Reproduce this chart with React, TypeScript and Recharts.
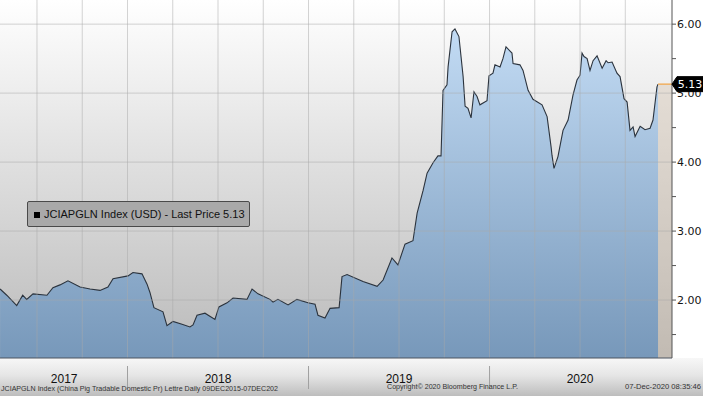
import { Area, ComposedChart, ReferenceArea, ReferenceLine, XAxis, YAxis } from 'recharts';

// JCIAPGLN Index (time in decimal years)
const TIMES = [
  2017.296, 2017.333, 2017.388, 2017.421, 2017.443, 2017.478, 2017.555, 2017.588, 2017.627, 2017.671,
  2017.738, 2017.793, 2017.848, 2017.892, 2017.92, 2018.003, 2018.03, 2018.08, 2018.108, 2018.124,
  2018.146, 2018.196, 2018.218, 2018.251, 2018.301, 2018.345, 2018.362, 2018.384, 2018.428, 2018.483,
  2018.505, 2018.55, 2018.583, 2018.66, 2018.688, 2018.721, 2018.787, 2018.804, 2018.831, 2018.887,
  2018.936, 2018.997, 2019.036, 2019.052, 2019.091, 2019.119, 2019.169, 2019.185, 2019.213, 2019.301,
  2019.379, 2019.412, 2019.461, 2019.494, 2019.533, 2019.577, 2019.6, 2019.633, 2019.655, 2019.688,
  2019.715, 2019.732, 2019.743, 2019.765, 2019.771, 2019.793, 2019.809, 2019.831, 2019.854, 2019.865,
  2019.881, 2019.898, 2019.914, 2019.931, 2019.947, 2019.986, 2019.997, 2020.019, 2020.03, 2020.058,
  2020.074, 2020.091, 2020.124, 2020.13, 2020.168, 2020.185, 2020.213, 2020.24, 2020.29, 2020.318,
  2020.34, 2020.345, 2020.356, 2020.378, 2020.406, 2020.434, 2020.461, 2020.483, 2020.5, 2020.511,
  2020.522, 2020.539, 2020.555, 2020.572, 2020.594, 2020.622, 2020.644, 2020.655, 2020.677, 2020.704,
  2020.721, 2020.743, 2020.76, 2020.776, 2020.793, 2020.804, 2020.832, 2020.859, 2020.887, 2020.903,
  2020.925, 2020.931
];

const PRICES = [
  2.16, 2.07, 1.92, 2.07, 2.01, 2.09, 2.07, 2.18, 2.22, 2.28,
  2.19, 2.16, 2.14, 2.19, 2.31, 2.35, 2.4, 2.38, 2.23, 2.11,
  1.89, 1.83, 1.63, 1.69, 1.65, 1.61, 1.64, 1.78, 1.81, 1.72,
  1.9, 1.96, 2.03, 2.01, 2.16, 2.09, 2.01, 1.97, 2.01, 1.93,
  2.01, 1.96, 1.94, 1.78, 1.74, 1.88, 1.89, 2.34, 2.37, 2.27,
  2.2, 2.29, 2.61, 2.51, 2.81, 2.86, 3.26, 3.59, 3.84, 3.99,
  4.09, 4.09, 5.04, 5.12, 5.38, 5.89, 5.93, 5.82, 5.24, 4.81,
  4.78, 4.64, 5.02, 4.95, 4.83, 4.89, 5.25, 5.29, 5.41, 5.38,
  5.5, 5.67, 5.58, 5.43, 5.41, 5.33, 5.04, 4.91, 4.83, 4.66,
  4.22, 4.1, 3.91, 4.08, 4.46, 4.61, 4.97, 5.19, 5.26, 5.58,
  5.53, 5.5, 5.33, 5.47, 5.54, 5.36, 5.47, 5.44, 5.45, 5.29,
  5.24, 4.92, 4.87, 4.46, 4.51, 4.37, 4.52, 4.47, 4.49, 4.61,
  5.09, 5.13
];

const LAST_PRICE = 5.13;
const X_MIN = 2017.2956;
const X_MAX = 2021.008;
const Y_MIN = 1.16;
const Y_MAX = 6.35;

const Y_TICKS = [1.5, 2, 2.5, 3, 3.5, 4, 4.5, 5, LAST_PRICE, 5.5, 6];
const Y_GRID = [2, 3, 4, 5, 6];
const QUARTER_LINES = [
  2017.5, 2017.75, 2018, 2018.25, 2018.5, 2018.75, 2019, 2019.25, 2019.5, 2019.75, 2020, 2020.25, 2020.5, 2020.75
];
const YEAR_LABELS = ['2017', '2018', '2019', '2020'];
const YEAR_CENTERS = [2017.65, 2018.5, 2019.5, 2020.5];
const YEAR_BREAKS = [2018, 2019, 2020];

const MONTH_TICKS: number[] = [];
for (let y = 2017; y <= 2020; y++) {
  for (let m = 0; m < 12; m++) {
    const t = y + m / 12;
    if (t > X_MIN && t < X_MAX) MONTH_TICKS.push(t);
  }
}

const AXIS_FONT = '"DejaVu Sans", Verdana, sans-serif';
const LABEL_FONT = '"Liberation Sans", Arial, sans-serif';

function PriceTick({ x, y, payload }: any) {
  const v = payload.value;
  if (v === LAST_PRICE) {
    const left = x - 5;
    return (
      <g>
        <path
          d={`M${left} ${y} L${left + 5} ${y - 7.5} H${left + 31} V${y + 7.5} H${left + 5} Z`}
          fill="#000"
          stroke="#000"
          strokeLinejoin="round"
        />
        <text x={left + 18} y={y} dy="0.36em" textAnchor="middle" fill="#fff" fontSize={11} fontFamily={AXIS_FONT}>
          {v.toFixed(2)}
        </text>
      </g>
    );
  }
  if (!Number.isInteger(v)) return <g />;
  return (
    <text x={x} y={y} dy="0.36em" textAnchor="start" fill="#151515" fontSize={11} fontFamily={AXIS_FONT}>
      {v.toFixed(2)}
    </text>
  );
}

function YearTick({ x, y, payload }: any) {
  const v = payload.value;
  if (YEAR_BREAKS.includes(v)) {
    return <line x1={x} x2={x} y1={y - 6} y2={y + 17} stroke="#a0a0a0" />;
  }
  const idx = YEAR_CENTERS.indexOf(v);
  return (
    <text x={x} y={y + 11} textAnchor="middle" fill="#111" fontSize={12} fontFamily={LABEL_FONT}>
      {YEAR_LABELS[idx]}
    </text>
  );
}

export default function App() {
  const rows = TIMES.map((t, i) => ({ t, price: PRICES[i] }));

  return (
    <div style={{ position: 'absolute', left: 0, top: 0, width: 703, height: 396, background: '#fff', overflow: 'hidden' }}>
      <div
        style={{ position: 'absolute', left: 0, top: 0, width: 672, height: 358, background: 'linear-gradient(#ffffff, #bababa)' }}
      />
      <div
        style={{
          position: 'absolute',
          left: 0,
          top: 358,
          width: 703,
          height: 38,
          background: 'linear-gradient(#f7f7f7 0%, #e6e6e6 45%, #bdbdbd 100%)'
        }}
      />
      <div style={{ position: 'absolute', left: 0, top: 0 }}>
        <ComposedChart width={703} height={396} data={rows} margin={{ top: 0, right: 0, bottom: 0, left: 0 }}>
          <defs>
            <linearGradient id="areaFill" gradientUnits="userSpaceOnUse" x1="0" y1="0" x2="0" y2="358">
              <stop offset="0" stopColor="#c9e1f9" />
              <stop offset="1" stopColor="#7798ba" />
            </linearGradient>
          </defs>
          <XAxis
            dataKey="t"
            type="number"
            domain={[X_MIN, X_MAX]}
            allowDataOverflow
            ticks={MONTH_TICKS}
            interval={0}
            tick={false}
            tickSize={4}
            height={6}
            stroke="#4d5560"
          />
          <XAxis
            xAxisId="yr"
            dataKey="t"
            type="number"
            domain={[X_MIN, X_MAX]}
            allowDataOverflow
            ticks={[...YEAR_CENTERS, ...YEAR_BREAKS]}
            interval={0}
            tick={<YearTick />}
            tickLine={false}
            axisLine={false}
            height={32}
          />
          <YAxis
            orientation="right"
            type="number"
            domain={[Y_MIN, Y_MAX]}
            allowDataOverflow
            ticks={Y_TICKS}
            interval={0}
            width={31}
            tickSize={4}
            tickMargin={1}
            tick={<PriceTick />}
            stroke="#555"
          />
          <Area
            type="linear"
            dataKey="price"
            stroke="#2b333d"
            strokeWidth={1.1}
            fill="url(#areaFill)"
            fillOpacity={1}
            baseValue="dataMin"
            dot={false}
            activeDot={false}
            isAnimationActive={false}
          />
          {Y_GRID.map((v) => (
            <ReferenceLine key={`h${v}`} y={v} stroke="#a9a9a9" strokeOpacity={0.5} />
          ))}
          {QUARTER_LINES.map((v) => (
            <ReferenceLine key={`v${v}`} x={v} stroke="#a9a9a9" strokeOpacity={0.5} />
          ))}
          <ReferenceArea
            x1={TIMES[TIMES.length - 1]}
            x2={X_MAX}
            y1={Y_MIN}
            y2={LAST_PRICE}
            fill="#d2bca6"
            fillOpacity={0.35}
            stroke="none"
          />
          <ReferenceLine
            segment={[
              { x: TIMES[TIMES.length - 1], y: LAST_PRICE },
              { x: X_MAX, y: LAST_PRICE }
            ]}
            stroke="#f0b060"
            strokeWidth={1.5}
          />
        </ComposedChart>
      </div>
      <div
        style={{
          position: 'absolute',
          left: 27,
          top: 201,
          width: 221,
          height: 24,
          background: '#a9a9a9',
          border: '1px solid #4a4a4a',
          borderRadius: 2,
          fontFamily: LABEL_FONT,
          fontSize: 11,
          color: '#111',
          lineHeight: '24px',
          whiteSpace: 'nowrap'
        }}
      >
        <span
          style={{ display: 'inline-block', width: 6, height: 6, background: '#000', marginLeft: 6, marginRight: 4, verticalAlign: 'middle' }}
        />
        JCIAPGLN Index (USD) - Last Price 5.13
      </div>
      <svg width={703} height={396} style={{ position: 'absolute', left: 0, top: 0, pointerEvents: 'none' }}>
        <text x={1} y={391} fontSize={8} fill="#333" fontFamily={LABEL_FONT} textLength={277} lengthAdjust="spacingAndGlyphs">
          JCIAPGLN Index (China Pig Tradable Domestic Pr) Lettre  Daily 09DEC2015-07DEC202
        </text>
        <text x={387} y={389} fontSize={8} fill="#333" fontFamily={LABEL_FONT} textLength={131} lengthAdjust="spacingAndGlyphs">
          Copyright© 2020 Bloomberg Finance L.P.
        </text>
        <text x={625} y={389} fontSize={8} fill="#333" fontFamily={LABEL_FONT} textLength={76} lengthAdjust="spacingAndGlyphs">
          07-Dec-2020 08:35:46
        </text>
      </svg>
    </div>
  );
}
